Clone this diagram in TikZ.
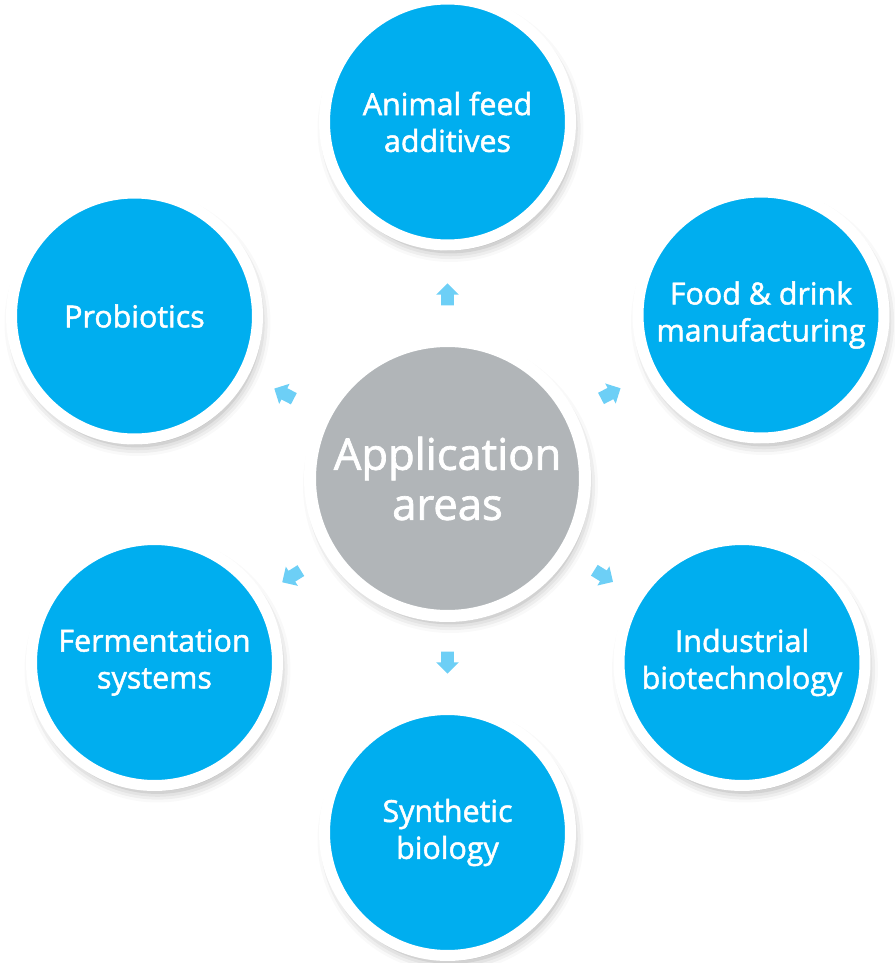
\documentclass[tikz,border=0pt]{standalone}
\usepackage{fontspec}
\setmainfont{Open Sans}
\newfontfamily\areafont{Open Sans}[FakeBold=1.6]
\usepackage{tikz}
\usetikzlibrary{calc,shapes.arrows,shadows.blur}
\definecolor{areablue}{HTML}{00AEEF}
\definecolor{hubgray}{HTML}{B1B5B8}
\definecolor{pointblue}{HTML}{6DCFF6}

\begin{document}
\begin{tikzpicture}[x=0.02cm, y=-0.02cm,
    area/.style={circle, fill=areablue, draw=white, line width=0.22cm, minimum size=4.92cm,
      inner sep=0pt, align=center, text=white, font=\areafont\fontsize{17.3}{21}\selectfont,
      blur shadow={shadow xshift=0.06cm, shadow yshift=-0.14cm, shadow blur radius=0.2cm, shadow opacity=35}},
    hub/.style={area, fill=hubgray, line width=0.24cm, minimum size=5.5cm, font=\areafont\fontsize{24.8}{28.5}\selectfont},
    pointer/.style={single arrow, fill=pointblue, inner xsep=0pt, inner ysep=0.12cm, minimum height=0.44cm,
      single arrow head extend=0.1cm}]
  \useasboundingbox (0,0) rectangle (894,963);
  \node[hub] (app) at (447.5,478.5) {Application\\areas};
  \node[area] (feed) at (447.5,122) {Animal feed\\additives};
  \node[area] (food) at (761,315) {Food \& drink\\manufacturing};
  \node[area] (indus) at (742,662.5) {Industrial\\biotechnology};
  \node[area] (synth) at (447.5,832.5) {Synthetic\\biology};
  \node[area] (ferm) at (154.5,662.5) {Fermentation\\systems};
  \node[area] (prob) at (134.5,316) {Probiotics};
  \foreach \c in {feed,food,indus,synth,ferm,prob}
    \path let \p1=($(\c)-(app)$), \n1={atan2(\y1,\x1)} in
      node[pointer, rotate=\n1] (to-\c) at ($(app)!3.62cm!(\c)$) {};
\end{tikzpicture}
\end{document}
